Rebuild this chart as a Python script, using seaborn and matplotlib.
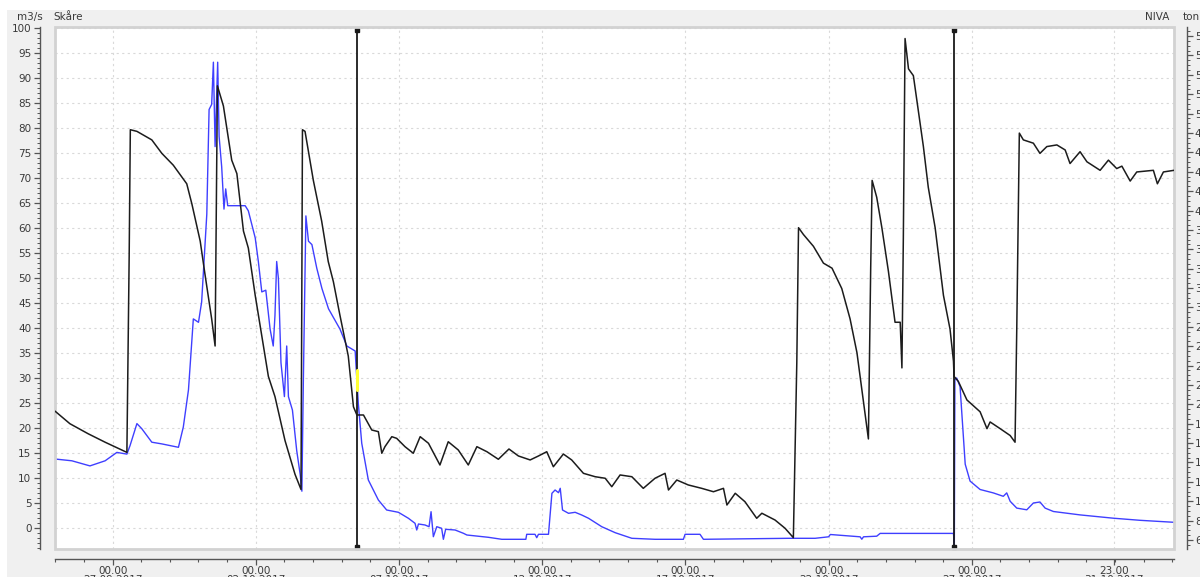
import pandas as pd
import matplotlib
matplotlib.use("Agg")
import matplotlib.pyplot as plt
import matplotlib.dates as mdates
import matplotlib.transforms as mtransforms
from matplotlib.patches import Rectangle
from matplotlib.ticker import MultipleLocator, FixedLocator
import seaborn as sns

START = pd.Timestamp("2017-09-27 00:00")

# Skåre discharge (m3/s), left axis: elapsed days from START
flow_days = [-2.01, -1.42, -0.79, -0.26, 0.15, 0.50, 0.61, 0.85, 1.02, 1.37,
             1.72, 2.30, 2.47, 2.65, 2.82, 3.00, 3.11, 3.29, 3.37, 3.46,
             3.52, 3.58, 3.67, 3.72, 3.81, 3.89, 3.95, 4.02, 4.63, 4.74,
             4.98, 5.09, 5.21, 5.35, 5.50, 5.61, 5.67, 5.73, 5.79, 5.88,
             6.00, 6.08, 6.14, 6.28, 6.43, 6.55, 6.61, 6.66, 6.75, 6.84,
             6.96, 7.13, 7.31, 7.54, 7.94, 8.18, 8.47, 8.53, 8.58, 8.70,
             8.93, 9.28, 9.57, 9.98, 10.33, 10.56, 10.62, 10.68, 10.91, 11.05,
             11.12, 11.20, 11.32, 11.49, 11.55, 11.63, 11.96, 12.25, 12.37, 13.12,
             13.59, 14.43, 14.46, 14.75, 14.81, 14.87, 15.22, 15.34, 15.45, 15.57,
             15.63, 15.71, 15.92, 16.15, 16.38, 16.62, 17.08, 17.55, 18.13, 18.94,
             19.93, 19.99, 20.51, 20.63, 23.60, 24.53, 25.00, 25.06, 26.10, 26.16,
             26.22, 26.68, 26.80, 29.36, 29.39, 29.41, 29.47, 29.59, 29.69, 29.77,
             29.94, 30.29, 30.75, 31.10, 31.22, 31.34, 31.57, 31.92, 32.15, 32.38,
             32.56, 32.85, 33.78, 34.94, 35.87, 37.06]
flow_m3s = [13.8, 13.44, 12.42, 13.44, 15.12, 14.78, 16.48, 20.88, 19.86, 17.16,
            16.82, 16.14, 20.2, 27.62, 41.82, 41.14, 45.2, 62.76, 83.7, 84.72,
            93.16, 76.28, 93.16, 78.3, 72.22, 63.78, 67.82, 64.46, 64.46, 63.44,
            58.04, 53.3, 47.22, 47.56, 39.78, 36.4, 42.5, 53.3, 49.92, 33.04,
            26.28, 36.4, 26.28, 23.58, 15.46, 10.74, 7.36, 28.98, 62.42, 57.36,
            56.68, 51.96, 47.9, 43.84, 39.78, 36.4, 35.4, 29.6, 24.9, 16.94,
            9.6, 5.6, 3.6, 3.14, 1.94, 0.94, -0.4, 0.8, 0.6, 0.26,
            3.26, -1.74, 0.26, -0.06, -2.26, -0.26, -0.4, -1.06, -1.4, -1.86,
            -2.26, -2.26, -1.26, -1.26, -1.94, -1.26, -1.26, 6.94, 7.6, 7.06,
            7.94, 3.6, 2.94, 3.14, 2.6, 1.94, 0.26, -0.94, -2.06, -2.26,
            -2.26, -1.26, -1.26, -2.26, -2.06, -2.06, -1.76, -1.3, -1.76, -2.24,
            -1.76, -1.64, -1.08, -1.08, -3.46, 29.66, 30.0, 28.3, 19.52, 12.76,
            9.38, 7.7, 7.02, 6.34, 7.02, 5.34, 3.98, 3.64, 5.0, 5.2,
            3.98, 3.3, 2.62, 1.96, 1.54, 1.14]

# NIVA series, right axis: elapsed days from START
niva_days = [-2.01, -1.49, -0.85, -0.26, 0.50, 0.58, 0.62, 0.85, 1.37, 1.72,
             2.12, 2.59, 2.77, 3.06, 3.23, 3.46, 3.58, 3.66, 3.87, 4.16,
             4.34, 4.57, 4.74, 4.98, 5.44, 5.67, 6.02, 6.37, 6.58, 6.63,
             6.72, 7.01, 7.30, 7.53, 7.71, 7.94, 8.23, 8.41, 8.53, 8.76,
             9.05, 9.28, 9.40, 9.51, 9.75, 9.92, 10.21, 10.50, 10.74, 11.03,
             11.43, 11.72, 12.07, 12.42, 12.72, 13.07, 13.47, 13.84, 14.17, 14.58,
             14.87, 15.16, 15.39, 15.74, 16.03, 16.44, 16.85, 17.20, 17.43, 17.72,
             18.13, 18.53, 18.94, 19.29, 19.41, 19.70, 20.10, 20.57, 20.98, 21.33,
             21.45, 21.74, 22.08, 22.49, 22.67, 23.13, 23.48, 23.77, 23.89, 23.95,
             24.12, 24.47, 24.82, 25.12, 25.46, 25.75, 25.99, 26.21, 26.39, 26.47,
             26.52, 26.68, 26.86, 27.09, 27.32, 27.50, 27.56, 27.61, 27.67, 27.79,
             27.96, 28.31, 28.48, 28.72, 29.01, 29.24, 29.36, 29.38, 29.53, 29.83,
             30.29, 30.53, 30.64, 30.99, 31.34, 31.51, 31.57, 31.66, 31.80, 32.15,
             32.38, 32.62, 32.97, 33.26, 33.43, 33.78, 34.02, 34.48, 34.77, 35.06,
             35.24, 35.53, 35.76, 36.34, 36.48, 36.69, 37.06]
niva_values = [19.3, 18.0, 16.96, 16.09, 15.04, 35.4, 48.34, 48.17, 47.29, 45.9,
               44.68, 42.76, 40.67, 36.84, 33.35, 28.82, 26.02, 52.87, 50.79, 45.2,
               43.81, 37.88, 36.13, 31.25, 22.88, 20.8, 16.27, 12.78, 11.21, 48.34,
               48.17, 43.11, 38.92, 34.74, 32.65, 29.17, 24.98, 19.75, 18.9, 18.9,
               17.35, 17.18, 14.95, 15.63, 16.66, 16.49, 15.63, 14.95, 16.66, 15.98,
               13.74, 16.14, 15.29, 13.74, 15.63, 15.11, 14.33, 15.39, 14.67, 14.26,
               14.67, 15.11, 13.56, 14.87, 14.26, 12.88, 12.53, 12.37, 11.5, 12.71,
               12.53, 11.33, 12.37, 12.88, 11.16, 12.19, 11.68, 11.33, 10.98, 11.33,
               9.61, 10.82, 9.95, 8.24, 8.76, 8.06, 7.21, 6.24, 24.3, 38.23,
               37.53, 36.31, 34.57, 34.05, 31.95, 28.82, 25.33, 20.45, 16.43, 34.05,
               43.11, 41.37, 38.23, 33.7, 28.47, 28.47, 23.76, 37.19, 57.75, 54.62,
               53.92, 46.6, 42.41, 38.23, 31.25, 27.76, 24.46, 22.88, 22.37, 20.45,
               19.23, 17.49, 18.18, 17.49, 16.78, 16.09, 27.77, 47.99, 47.29, 46.95,
               45.9, 46.6, 46.77, 46.25, 44.85, 46.07, 45.03, 44.15, 45.2, 44.33,
               44.58, 43.04, 43.98, 44.15, 42.76, 43.98, 44.15]

# cursor positions (elapsed days) and the highlighted flow interval at the first one
cursor_days = [8.53, 29.37]
highlight_m3s = [27.6, 31.7]

tick_stamps = ["2017-09-27 00:00", "2017-10-02 00:00", "2017-10-07 00:00",
               "2017-10-12 00:00", "2017-10-17 00:00", "2017-10-22 00:00",
               "2017-10-27 00:00", "2017-10-31 23:00"]

left_label, left_name = "m3/s", "Skåre"
right_name, right_label = "NIVA", "ton"


def to_time(days):
    return START + pd.to_timedelta(days, unit="D")


flow_df = pd.DataFrame({"time": to_time(flow_days), "value": flow_m3s})
niva_df = pd.DataFrame({"time": to_time(niva_days), "value": niva_values})

sns.set_theme(style="white")
plt.rcParams["font.family"] = ["DejaVu Sans"]

W, H = 1200, 577
fig = plt.figure(figsize=(W / 100, H / 100), dpi=100, facecolor="white")
# light grey panel behind the chart
fig.patches.append(Rectangle((7 / W, 0), 1, 1 - 10 / H, transform=fig.transFigure,
                             facecolor="#f0f0f0", edgecolor="none", zorder=-10))

x0, x1, y0, y1 = 55, 1174, 27, 549
ax = fig.add_axes([x0 / W, 1 - y1 / H, (x1 - x0) / W, (y1 - y0) / H])
ax.set_facecolor("white")
ax2 = ax.twinx()

TXT = "#3a3a3a"
SP = "#555555"

sns.lineplot(data=flow_df, x="time", y="value", ax=ax, color="#3f3fff",
             linewidth=1.0, estimator=None, sort=False, zorder=3)
sns.lineplot(data=niva_df, x="time", y="value", ax=ax2, color="#1c1c1c",
             linewidth=1.1, estimator=None, sort=False, zorder=3)

ax.set_xlim(to_time(-2.01), to_time(37.06))
ax.set_ylim(-4.2, 100.2)
ax2.set_ylim(5.07, 58.94)

ax.set_xlabel("")
ax.set_ylabel("")
ax2.set_ylabel("")

# cursors
blend = mtransforms.blended_transform_factory(ax.transData, ax.transAxes)
for c in cursor_days:
    t = to_time(c)
    ax.plot([t, t], [0.004, 0.994], transform=blend, color="#1a1a1a", lw=1.3,
            marker="s", ms=3.5, clip_on=False, zorder=5)
t0 = to_time(cursor_days[0])
ax.plot([t0, t0], highlight_m3s, color="#ffff33", lw=2.2, zorder=6)

# axes ticks
ax.xaxis.set_major_locator(FixedLocator(mdates.date2num(pd.to_datetime(tick_stamps))))
ax.xaxis.set_major_formatter(mdates.DateFormatter("%H.%M\n%d.%m.%Y"))
ax.xaxis.set_minor_locator(mdates.DayLocator())
ax.yaxis.set_major_locator(MultipleLocator(5))
ax.yaxis.set_minor_locator(MultipleLocator(1))
ax2.yaxis.set_major_locator(MultipleLocator(2))
ax2.yaxis.set_minor_locator(MultipleLocator(0.5))

ax.grid(True, which="major", linestyle=(0, (2, 3)), color="#d9d9d9", linewidth=0.8)
ax2.grid(False)

for a in (ax, ax2):
    for s in a.spines.values():
        s.set_visible(False)

ax.spines["left"].set_visible(True)
ax.spines["left"].set_position(("outward", 11))
ax.spines["bottom"].set_visible(True)
ax.spines["bottom"].set_position(("outward", 7))
ax2.spines["right"].set_visible(True)
ax2.spines["right"].set_position(("outward", 9))
for s in (ax.spines["left"], ax.spines["bottom"], ax2.spines["right"]):
    s.set_color(SP)
    s.set_linewidth(1.0)

ax.tick_params(axis="y", which="major", direction="out", length=4, width=0.9,
               color=SP, labelsize=7.5, labelcolor=TXT, pad=2, left=True)
ax.tick_params(axis="y", which="minor", direction="out", length=2, width=0.7,
               color=SP, left=True)
ax.tick_params(axis="x", which="major", direction="out", length=4, width=0.9,
               color=SP, labelsize=7.5, labelcolor=TXT, pad=1, bottom=True)
ax.tick_params(axis="x", which="minor", direction="out", length=2.5, width=0.8,
               color=SP, bottom=True)
ax2.tick_params(axis="y", which="major", direction="out", length=4, width=0.9,
                color=SP, labelsize=7.5, labelcolor=TXT, pad=2, right=True)
ax2.tick_params(axis="y", which="minor", direction="out", length=2, width=0.7,
                color=SP, right=True)
for lbl in ax.get_xticklabels():
    lbl.set_horizontalalignment("center")
    lbl.set_multialignment("center")
    lbl.set_linespacing(0.95)

# light frame around the plotting area
ax.add_patch(Rectangle((0, 0), 1, 1, transform=ax.transAxes, fill=False,
                       edgecolor="#d2d2d2", linewidth=2.0, clip_on=False, zorder=10))

# header labels
hy = 1 - 17 / H
fig.text(17 / W, hy, left_label, fontsize=7.5, color=TXT, va="center", ha="left")
fig.text(53 / W, hy, left_name, fontsize=7.5, color=TXT, va="center", ha="left")
fig.text(1145 / W, hy, right_name, fontsize=7.5, color=TXT, va="center", ha="left")
fig.text(1183 / W, hy, right_label, fontsize=7.5, color=TXT, va="center", ha="left")

fig.savefig("out.png", dpi=100, facecolor=fig.get_facecolor())
